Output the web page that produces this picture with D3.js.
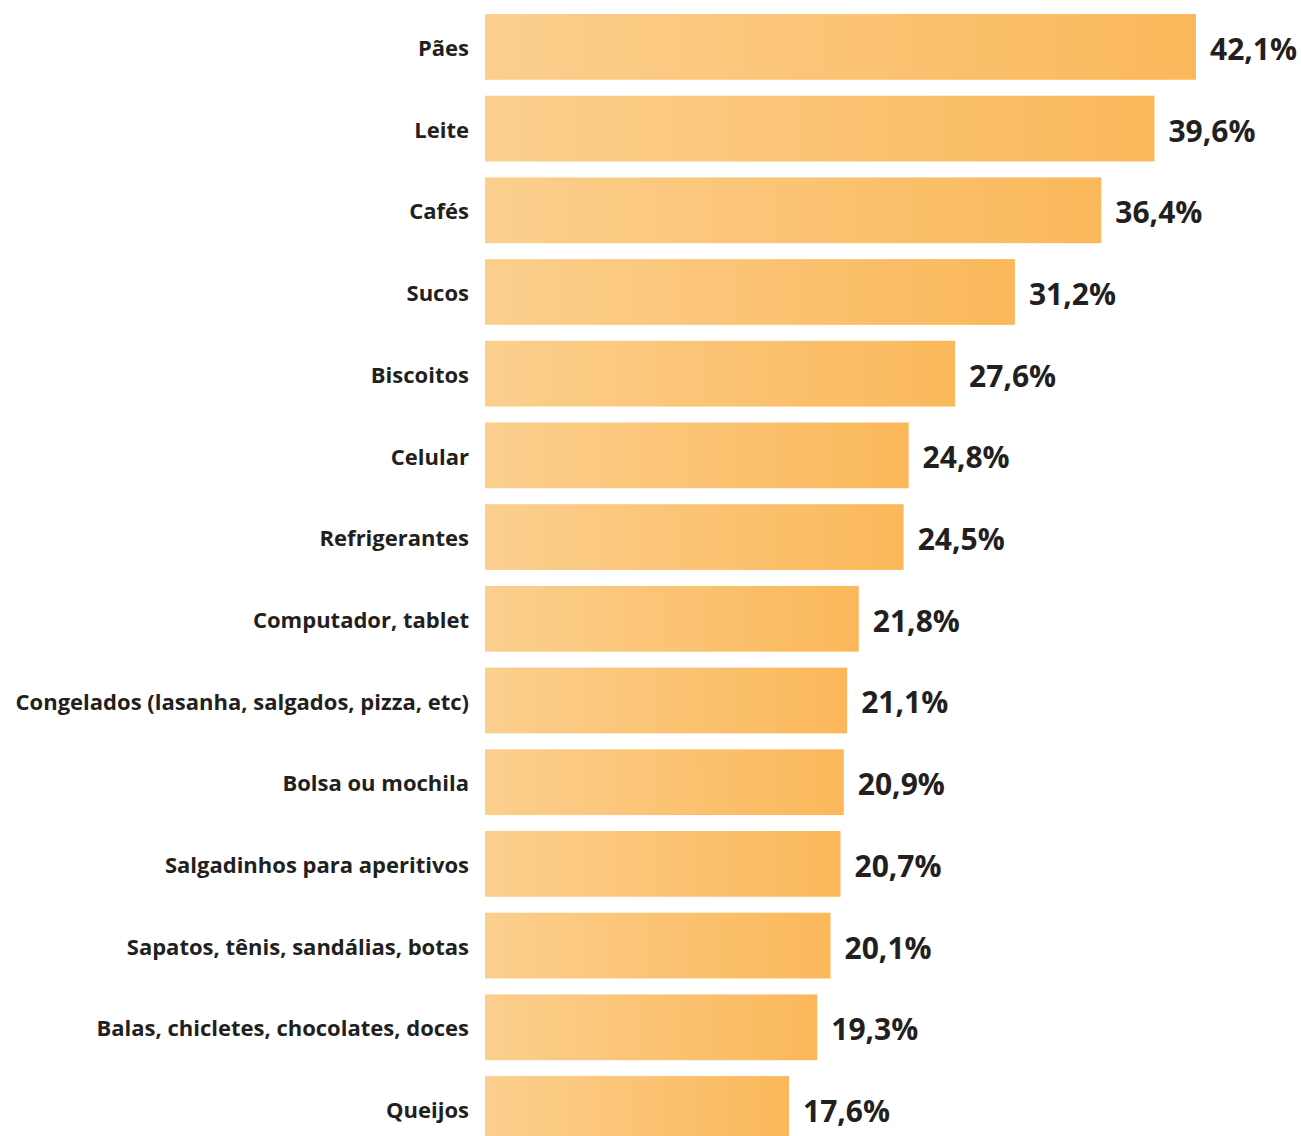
<!DOCTYPE html>
<html>
<head>
<meta charset="utf-8">
<script src="https://cdn.jsdelivr.net/npm/d3@7"></script>
<style>
  html, body { margin: 0; padding: 0; background: #fff; overflow: hidden; }
  svg { display: block; }
</style>
</head>
<body>
<div id="chart"></div>
<script>
const categories = [
    "Pães", "Leite", "Cafés", "Sucos", "Biscoitos", "Celular", "Refrigerantes",
    "Computador, tablet", "Congelados (lasanha, salgados, pizza, etc)",
    "Bolsa ou mochila", "Salgadinhos para aperitivos",
    "Sapatos, tênis, sandálias, botas", "Balas, chicletes, chocolates, doces",
    "Queijos"
];
const values = [42.1, 39.6, 36.4, 31.2, 27.6, 24.8, 24.5, 21.8, 21.1, 20.9, 20.7, 20.1, 19.3, 17.6];
const valueLabels = ["42,1%", "39,6%", "36,4%", "31,2%", "27,6%", "24,8%", "24,5%",
    "21,8%", "21,1%", "20,9%", "20,7%", "20,1%", "19,3%", "17,6%"];

const WIDTH = 1301;
const HEIGHT = 1136;
const BAR_LEFT = 485;
const STEP = 81.7;
const PAD = 0.195;
const TEXT_COLOR = "#231f20";

var svg = d3.select("#chart")
    .append("svg")
    .attr("width", WIDTH)
    .attr("height", HEIGHT);

// gradient per bar, light on the left and deeper orange on the right
var grad = svg.append("defs").append("linearGradient")
    .attr("id", "barGrad")
    .attr("x1", "0%").attr("x2", "100%")
    .attr("y1", "0%").attr("y2", "0%");
grad.append("stop").attr("offset", "0%").attr("stop-color", "#fbcf8e");
grad.append("stop").attr("offset", "100%").attr("stop-color", "#fbb85a");

var xScale = d3.scaleLinear().domain([-0.7, 42.1]).range([BAR_LEFT, 1196]);
var yScale = d3.scaleBand()
    .domain(categories)
    .range([14, 14 + STEP * (categories.length - PAD)])
    .paddingInner(PAD)
    .paddingOuter(0);

var rows = svg.selectAll("g.row")
    .data(categories)
    .enter()
    .append("g")
    .attr("class", "row");

rows.append("rect")
    .attr("x", BAR_LEFT)
    .attr("y", d => yScale(d))
    .attr("width", (d, i) => xScale(values[i]) - BAR_LEFT)
    .attr("height", yScale.bandwidth())
    .attr("fill", "url(#barGrad)");

rows.append("text")
    .attr("x", 469)
    .attr("y", d => yScale(d) + yScale.bandwidth() / 2 + 1.5)
    .attr("dy", "0.35em")
    .attr("text-anchor", "end")
    .attr("font-family", "'Open Sans', sans-serif")
    .attr("font-weight", 700)
    .attr("font-size", "22px")
    .attr("fill", TEXT_COLOR)
    .text(d => d);

rows.append("text")
    .attr("x", (d, i) => xScale(values[i]) + 14)
    .attr("y", d => yScale(d) + yScale.bandwidth() / 2 + 2.5)
    .attr("dy", "0.35em")
    .attr("font-family", "'Open Sans', sans-serif")
    .attr("font-weight", 700)
    .attr("font-size", "30px")
    .attr("fill", TEXT_COLOR)
    .text((d, i) => valueLabels[i]);
</script>
</body>
</html>
